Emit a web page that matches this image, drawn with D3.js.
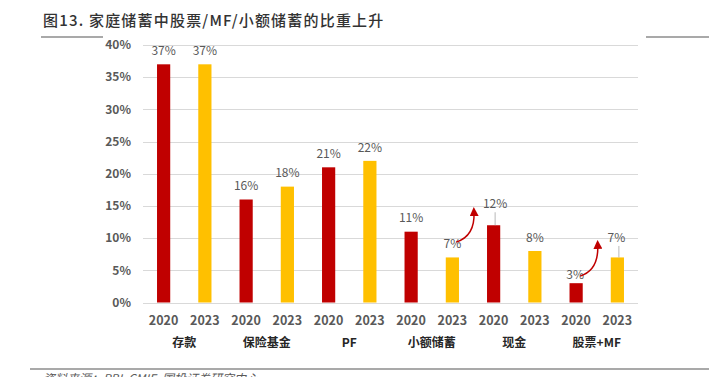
<!DOCTYPE html>
<html lang="zh">
<head>
<meta charset="UTF-8">
<title>家庭储蓄中股票/MF/小额储蓄的比重上升</title>
<script src="https://d3js.org/d3.v7.min.js"></script>
<style>
    body { margin: 0; background: #fff; }
    svg { display: block; font-family: "Noto Sans CJK SC", "Noto Sans", sans-serif; }
    .grid line { stroke: #d9d9d9; stroke-width: 1; }
    .tick-label { font-size: 12px; font-weight: 700; fill: #595959; }
    .value-label { font-size: 12px; fill: #595959; }
    .year-label { font-size: 12.5px; font-weight: 700; fill: #595959; }
    .cat-label { font-size: 12px; font-weight: 700; fill: #262626; }
    .title { font-size: 15px; font-weight: 500; fill: #333; letter-spacing: 1.2px; }
    .rule { stroke: #8c8c8c; stroke-width: 1.5; }
    .source { font-size: 12px; font-style: italic; fill: #595959; }
</style>
</head>
<body>
<script>
// data
var categories = ["存款", "保险基金", "PF", "小额储蓄", "现金", "股票+MF"];
var years = ["2020", "2023"];
var values2020 = [37, 16, 21, 11, 12, 3];
var values2023 = [37, 18, 22, 7, 8, 7];
var yTicks = [0, 5, 10, 15, 20, 25, 30, 35, 40];

var colors = { "2020": "#c00000", "2023": "#ffc000" };

// flatten into bars
var bars = [];
categories.forEach(function(c, i) {
    bars.push({ cat: c, year: years[0], value: values2020[i], key: i * 2 });
    bars.push({ cat: c, year: years[1], value: values2023[i], key: i * 2 + 1 });
});

var W = 709, H = 377;
var plot = { left: 143, right: 638, top: 45, bottom: 302.5 };

var svg = d3.select("body").append("svg")
    .attr("width", W)
    .attr("height", H);

var x = d3.scaleBand()
    .domain(bars.map(function(d) { return d.key; }))
    .range([plot.left, plot.right])
    .paddingInner(0.68)
    .paddingOuter(0.34);

var y = d3.scaleLinear()
    .domain([0, 40])
    .range([plot.bottom, plot.top]);

// title
svg.append("text")
    .attr("class", "title")
    .attr("x", 43)
    .attr("y", 26)
    .text("图13. 家庭储蓄中股票/MF/小额储蓄的比重上升");

svg.append("line").attr("class", "rule")
    .attr("x1", 41).attr("x2", 103).attr("y1", 37).attr("y2", 37);
svg.append("line").attr("class", "rule")
    .attr("x1", 646).attr("x2", 709).attr("y1", 37).attr("y2", 37);

// gridlines
svg.append("g").attr("class", "grid")
    .selectAll("line")
    .data(yTicks)
    .enter().append("line")
    .attr("x1", plot.left)
    .attr("x2", plot.right)
    .attr("y1", function(d) { return Math.round(y(d)) + 0.5; })
    .attr("y2", function(d) { return Math.round(y(d)) + 0.5; });

// y labels
svg.selectAll(".tick-label")
    .data(yTicks)
    .enter().append("text")
    .attr("class", "tick-label")
    .attr("x", 131)
    .attr("y", function(d) { return y(d); })
    .attr("dy", "0.35em")
    .attr("text-anchor", "end")
    .text(function(d) { return d + "%"; });

// bars
svg.selectAll(".bar")
    .data(bars)
    .enter().append("rect")
    .attr("class", "bar")
    .attr("x", function(d) { return x(d.key); })
    .attr("width", x.bandwidth())
    .attr("y", function(d) { return y(d.value); })
    .attr("height", function(d) { return y(0) - y(d.value); })
    .attr("fill", function(d) { return colors[d.year]; });

// value labels (a few are moved so they don't collide with the arrows)
var lift = { 8: 21, 10: 8, 11: 19.5 };
var shiftX = { 8: 1.5, 10: -1, 11: -1 };
var leaders = [8, 11];

svg.selectAll(".value-label")
    .data(bars)
    .enter().append("text")
    .attr("class", "value-label")
    .attr("text-anchor", "middle")
    .attr("x", function(d) { return x(d.key) + x.bandwidth() / 2 + (shiftX[d.key] || 0); })
    .attr("y", function(d) { return y(d.value) - (lift[d.key] || 13.5); })
    .attr("dy", "0.35em")
    .text(function(d) { return d.value + "%"; });

svg.selectAll(".leader")
    .data(bars.filter(function(d) { return leaders.indexOf(d.key) >= 0; }))
    .enter().append("line")
    .attr("stroke", "#a6a6a6")
    .attr("stroke-width", 0.8)
    .attr("x1", function(d) { return x(d.key) + x.bandwidth() / 2 + 1.5; })
    .attr("x2", function(d) { return x(d.key) + x.bandwidth() / 2 + 1.5; })
    .attr("y1", function(d) { return y(d.value) - lift[d.key] + 8; })
    .attr("y2", function(d) { return y(d.value); });

// year labels
svg.selectAll(".year-label")
    .data(bars)
    .enter().append("text")
    .attr("class", "year-label")
    .attr("text-anchor", "middle")
    .attr("x", function(d) { return x(d.key) + x.bandwidth() / 2; })
    .attr("y", 321)
    .attr("dy", "0.35em")
    .text(function(d) { return d.year; });

// category labels
svg.selectAll(".cat-label")
    .data(categories)
    .enter().append("text")
    .attr("class", "cat-label")
    .attr("text-anchor", "middle")
    .attr("x", function(d, i) {
        return (x(i * 2) + x(i * 2 + 1) + x.bandwidth()) / 2;
    })
    .attr("y", 343)
    .attr("dy", "0.35em")
    .text(function(d) { return d; });

// arrows: from a bar label up to the gap after it
var arrows = [
    { from: 7, y0: 9.4, y1: 14.6 },
    { from: 10, y0: 4.1, y1: 9.5 }
];

svg.append("defs").append("marker")
    .attr("id", "head")
    .attr("viewBox", "0 0 10 10")
    .attr("refX", 4).attr("refY", 5)
    .attr("markerWidth", 6).attr("markerHeight", 6)
    .attr("orient", "auto")
    .append("path")
    .attr("d", "M0,0 L10,5 L0,10 Z")
    .attr("fill", "#c00000");

svg.selectAll(".arrow")
    .data(arrows)
    .enter().append("path")
    .attr("fill", "none")
    .attr("stroke", "#c00000")
    .attr("stroke-width", 1.5)
    .attr("marker-end", "url(#head)")
    .attr("d", function(d) {
        var x0 = x(d.from) + x.bandwidth() / 2 + 4;
        var x1 = x(d.from + 1) - x.step() * x.paddingInner() / 2 + 1;
        var y0 = y(d.y0), y1 = y(d.y1);
        return "M" + x0 + "," + y0 + " Q" + (x1 + 1) + "," + (y0 - 6) + " " + x1 + "," + (y1 + 4);
    });

// bottom rule and source (cut by the lower edge, as in the original)
svg.append("line").attr("class", "rule")
    .attr("x1", 30).attr("x2", 709).attr("y1", 369).attr("y2", 369);

svg.append("text")
    .attr("class", "source")
    .attr("x", 43)
    .attr("y", 383)
    .text("资料来源：RBI, CMIE, 国投证券研究中心");
</script>
</body>
</html>
